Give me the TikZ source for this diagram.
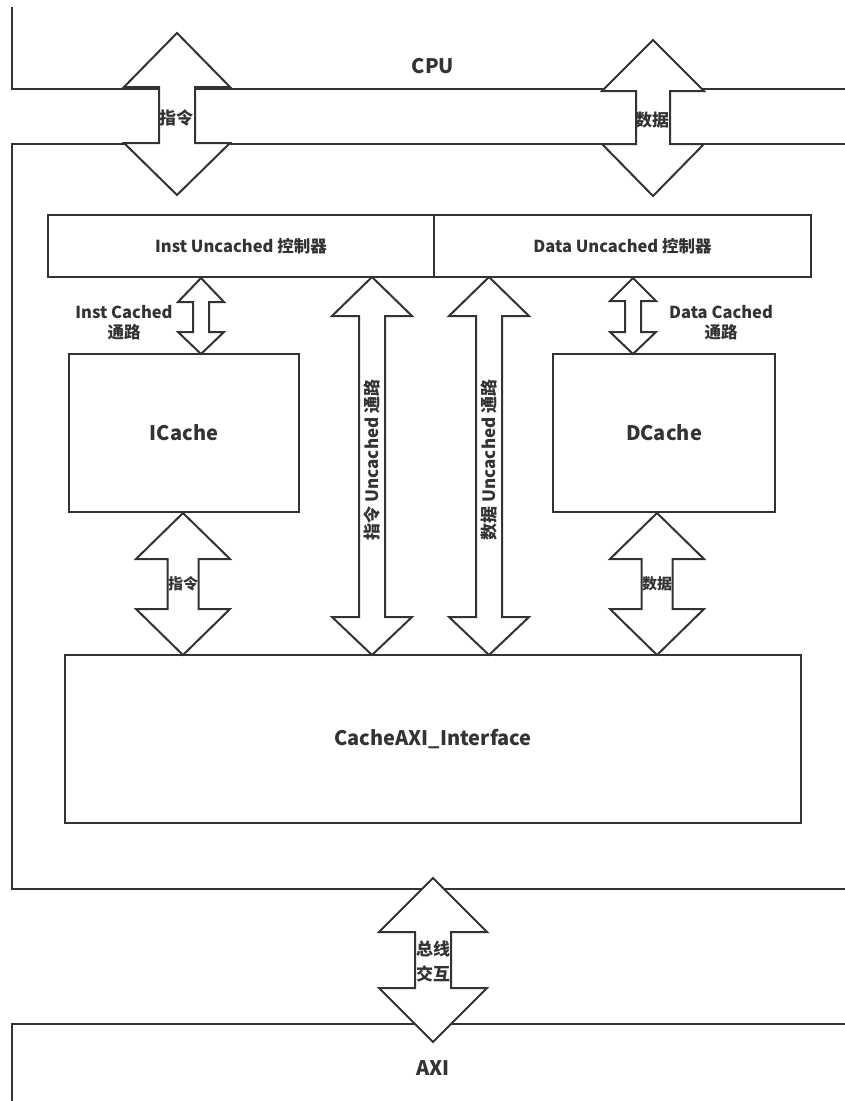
\documentclass[tikz,border=0pt]{standalone}
\usepackage{fontspec}
\setmainfont{Noto Sans CJK SC}
\definecolor{ln}{HTML}{333333}
\definecolor{tx}{HTML}{333333}
\newcommand\dblarrow[8]{% name, cx, top, b1, b2, bot, hw, sw
  \draw[arr] (#2,#3) coordinate (#1-top) -- ({#2+#7},#4) -- ({#2+#8},#4) -- ({#2+#8},#5) -- ({#2+#7},#5)
    -- (#2,#6) coordinate (#1-bot) -- ({#2-#7},#5) -- ({#2-#8},#5) -- ({#2-#8},#4) -- ({#2-#7},#4) -- cycle;}
\begin{document}
\begin{tikzpicture}[x=1pt,y=-1pt,
  every node/.style={text=tx, font=\bfseries, inner sep=0pt},
  box/.style={draw=ln, line width=2pt, fill=white},
  frame/.style={draw=ln, line width=2pt},
  arr/.style={draw=ln, line width=2pt, fill=white, line join=miter},
  big/.style={font=\bfseries\fontsize{20}{24}\selectfont},
  mid/.style={font=\bfseries\fontsize{17}{20}\selectfont},
  lab/.style={font=\bfseries\fontsize{16.5}{20}\selectfont},
  sml/.style={font=\bfseries\fontsize{15}{20}\selectfont}]
\useasboundingbox (0,0) rectangle (844,1101);
\fill[white] (0,0) rectangle (844,1101);
% outer frames
\draw[frame] (12,7) -- (12,89) -- (846,89);
\draw[frame] (846,144) -- (12,144) -- (12,889) -- (846,889);
\draw[frame] (846,1024) -- (12,1024) -- (12,1103);
\node[big] (cpu) at (433,66) {CPU};
\node[big] (axi) at (433,1068) {AXI};
% controllers
\node[box, minimum width=386pt, minimum height=62pt] (instc) at (241,246) {};
\node[box, minimum width=377pt, minimum height=62pt] (datac) at (622.5,246) {};
\node[lab] at (instc.center) {Inst Uncached 控制器};
\node[lab] at (datac.center) {Data Uncached 控制器};
% caches
\node[box, minimum width=230pt, minimum height=158pt] (icache) at (184,433) {};
\node[box, minimum width=222pt, minimum height=158pt] (dcache) at (664,433) {};
\node[big] at (icache.center) {ICache};
\node[big] at (dcache.center) {DCache};
% interface
\node[box, minimum width=736pt, minimum height=168pt] (axiif) at (433,739) {};
\node[big] at (axiif.center) {CacheAXI\_Interface};
% arrows
\dblarrow{a1}{177}{33}{87}{143}{195}{53}{18}
\dblarrow{a2}{653}{40}{91}{144}{196}{51}{17}
\dblarrow{a3}{201}{278}{302}{332}{354}{23}{8}
\dblarrow{a4}{633}{278}{301}{332}{354}{23}{8}
\dblarrow{a5}{372}{277}{316}{617}{655}{40}{13}
\dblarrow{a6}{489}{277}{316}{617}{655}{40}{13}
\dblarrow{a7}{183}{513}{559}{609}{655}{47}{15.5}
\dblarrow{a8}{657}{513}{559}{609}{655}{47}{15.5}
\dblarrow{a9}{433}{878}{932}{988}{1042}{54}{18}
% arrow labels
\node[mid] (l1) at (176,118) {指令};
\node[mid] (l2) at (652,120) {数据};
\node[lab, align=center] (l3) at (124,323) {Inst Cached\\通路};
\node[lab, align=center] (l4) at (721,323) {Data Cached\\通路};
\node[mid, rotate=90] (l5) at (372,460) {指令 Uncached 通路};
\node[mid, rotate=90] (l6) at (489,460) {数据 Uncached 通路};
\node[sml] (l7) at (183,584) {指令};
\node[sml] (l8) at (657,584) {数据};
\node[mid, align=center, font=\bfseries\fontsize{17}{25}\selectfont] (l9) at (433,961) {总线\\交互};
\end{tikzpicture}
\end{document}
